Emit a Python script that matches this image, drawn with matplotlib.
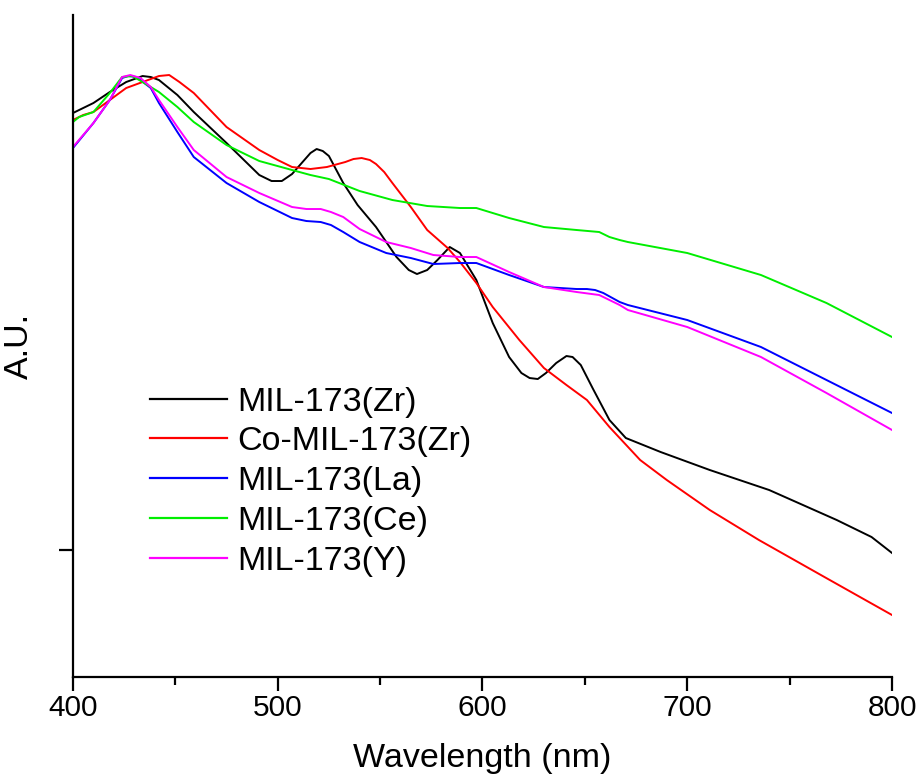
import matplotlib
matplotlib.use("Agg")
import matplotlib.pyplot as plt
from matplotlib.ticker import MultipleLocator

plt.rcParams['font.family'] = ['Liberation Sans', 'DejaVu Sans']

# MIL-173(Zr)
wl_zr = [400, 410, 418, 426, 434, 438, 442, 451, 459, 475, 491, 497, 502, 507, 513,
         516, 519, 522, 525, 532, 539, 548, 558, 564, 568, 573, 578, 584, 589, 597,
         605, 613, 619, 623, 627, 631, 636, 641, 644, 648, 654, 662, 670, 687, 711,
         740, 773, 790, 800]
au_zr = [5.64, 5.74, 5.85, 5.95, 6.01, 6.00, 5.97, 5.82, 5.65, 5.34, 5.02, 4.96, 4.96,
         5.03, 5.17, 5.24, 5.28, 5.26, 5.21, 4.94, 4.72, 4.50, 4.20, 4.07, 4.03, 4.07,
         4.17, 4.30, 4.24, 3.97, 3.54, 3.20, 3.04, 2.99, 2.98, 3.04, 3.14, 3.21, 3.20,
         3.12, 2.88, 2.57, 2.39, 2.25, 2.07, 1.87, 1.57, 1.40, 1.24]

# Co-MIL-173(Zr)
wl_co = [400, 405, 410, 418, 426, 434, 442, 447, 452, 459, 475, 491, 500, 507, 516,
         524, 533, 537, 541, 545, 548, 552, 556, 565, 573, 583, 589, 597, 605, 618,
         630, 641, 651, 662, 677, 690, 711, 735, 767, 800]
au_co = [5.57, 5.62, 5.65, 5.77, 5.89, 5.95, 6.01, 6.02, 5.95, 5.84, 5.50, 5.27, 5.17,
         5.10, 5.08, 5.10, 5.15, 5.18, 5.19, 5.17, 5.13, 5.05, 4.94, 4.70, 4.47, 4.29,
         4.15, 3.94, 3.70, 3.37, 3.09, 2.92, 2.77, 2.50, 2.17, 1.97, 1.67, 1.37, 1.00,
         0.62]

# MIL-173(La)
wl_la = [400, 410, 418, 424, 427, 431, 438, 442, 451, 459, 475, 491, 507, 514, 521,
         526, 532, 540, 553, 565, 576, 589, 597, 613, 630, 646, 651, 655, 659, 667,
         671, 700, 736, 768, 800]
au_la = [5.29, 5.54, 5.77, 5.99, 6.01, 6.00, 5.89, 5.74, 5.45, 5.20, 4.94, 4.75, 4.59,
         4.56, 4.55, 4.52, 4.45, 4.35, 4.24, 4.19, 4.13, 4.14, 4.14, 4.02, 3.90, 3.88,
         3.88, 3.87, 3.84, 3.75, 3.72, 3.57, 3.30, 2.97, 2.64]

# MIL-173(Ce)
wl_ce = [400, 403, 410, 418, 424, 429, 434, 442, 451, 459, 475, 491, 507, 516, 525,
         540, 556, 573, 589, 597, 613, 630, 646, 657, 662, 667, 671, 700, 736, 768,
         800]
au_ce = [5.55, 5.60, 5.65, 5.84, 6.00, 6.01, 5.95, 5.85, 5.70, 5.55, 5.32, 5.16, 5.07,
         5.02, 4.98, 4.86, 4.77, 4.71, 4.69, 4.69, 4.59, 4.50, 4.47, 4.45, 4.40, 4.37,
         4.35, 4.24, 4.02, 3.74, 3.40]

# MIL-173(Y)
wl_y = [400, 410, 418, 424, 428, 433, 438, 442, 451, 459, 475, 491, 507, 514, 521,
        526, 532, 540, 553, 565, 576, 589, 597, 613, 630, 646, 657, 662, 667, 671,
        700, 736, 768, 800]
au_y = [5.30, 5.54, 5.77, 6.00, 6.02, 5.99, 5.90, 5.77, 5.50, 5.27, 5.00, 4.84, 4.70,
        4.68, 4.68, 4.65, 4.60, 4.48, 4.35, 4.29, 4.22, 4.20, 4.20, 4.05, 3.90, 3.85,
        3.82, 3.77, 3.72, 3.67, 3.50, 3.20, 2.84, 2.47]

fig = plt.figure(figsize=(9.2, 7.78), dpi=100)
ax = fig.add_axes([0.0793, 0.1298, 0.8903, 0.8509])

ax.plot(wl_zr, au_zr, color='black', lw=1.4, label='MIL-173(Zr)')
ax.plot(wl_co, au_co, color='red', lw=1.4, label='Co-MIL-173(Zr)')
ax.plot(wl_la, au_la, color='blue', lw=1.4, label='MIL-173(La)')
ax.plot(wl_ce, au_ce, color='#00ee00', lw=1.4, label='MIL-173(Ce)')
ax.plot(wl_y, au_y, color='magenta', lw=1.4, label='MIL-173(Y)')

ax.set_xlim(400, 800)
ax.set_ylim(0, 6.62)
ax.xaxis.set_major_locator(MultipleLocator(100))
ax.xaxis.set_minor_locator(MultipleLocator(50))
ax.set_yticks([1.27])
ax.set_yticklabels([])

for s in ['top', 'right']:
    ax.spines[s].set_visible(False)
for s in ['left', 'bottom']:
    ax.spines[s].set_linewidth(1.6)

ax.tick_params(axis='both', which='major', direction='out', length=10, width=1.6,
               labelsize=21.5)
ax.tick_params(axis='x', which='minor', direction='out', length=6, width=1.6)
ax.tick_params(axis='x', pad=2)

ax.set_xlabel('Wavelength (nm)', fontsize=24.5, labelpad=15)
ax.set_ylabel('A.U.', fontsize=24.5, labelpad=14)

leg = ax.legend(loc='center left', bbox_to_anchor=(0.094, 0.295), frameon=False,
                fontsize=24.5, handlelength=2.26, handletextpad=0.3,
                labelspacing=0.26, borderpad=0, borderaxespad=0)
for line in leg.get_lines():
    line.set_linewidth(1.6)

fig.savefig('out.png', dpi=100)
